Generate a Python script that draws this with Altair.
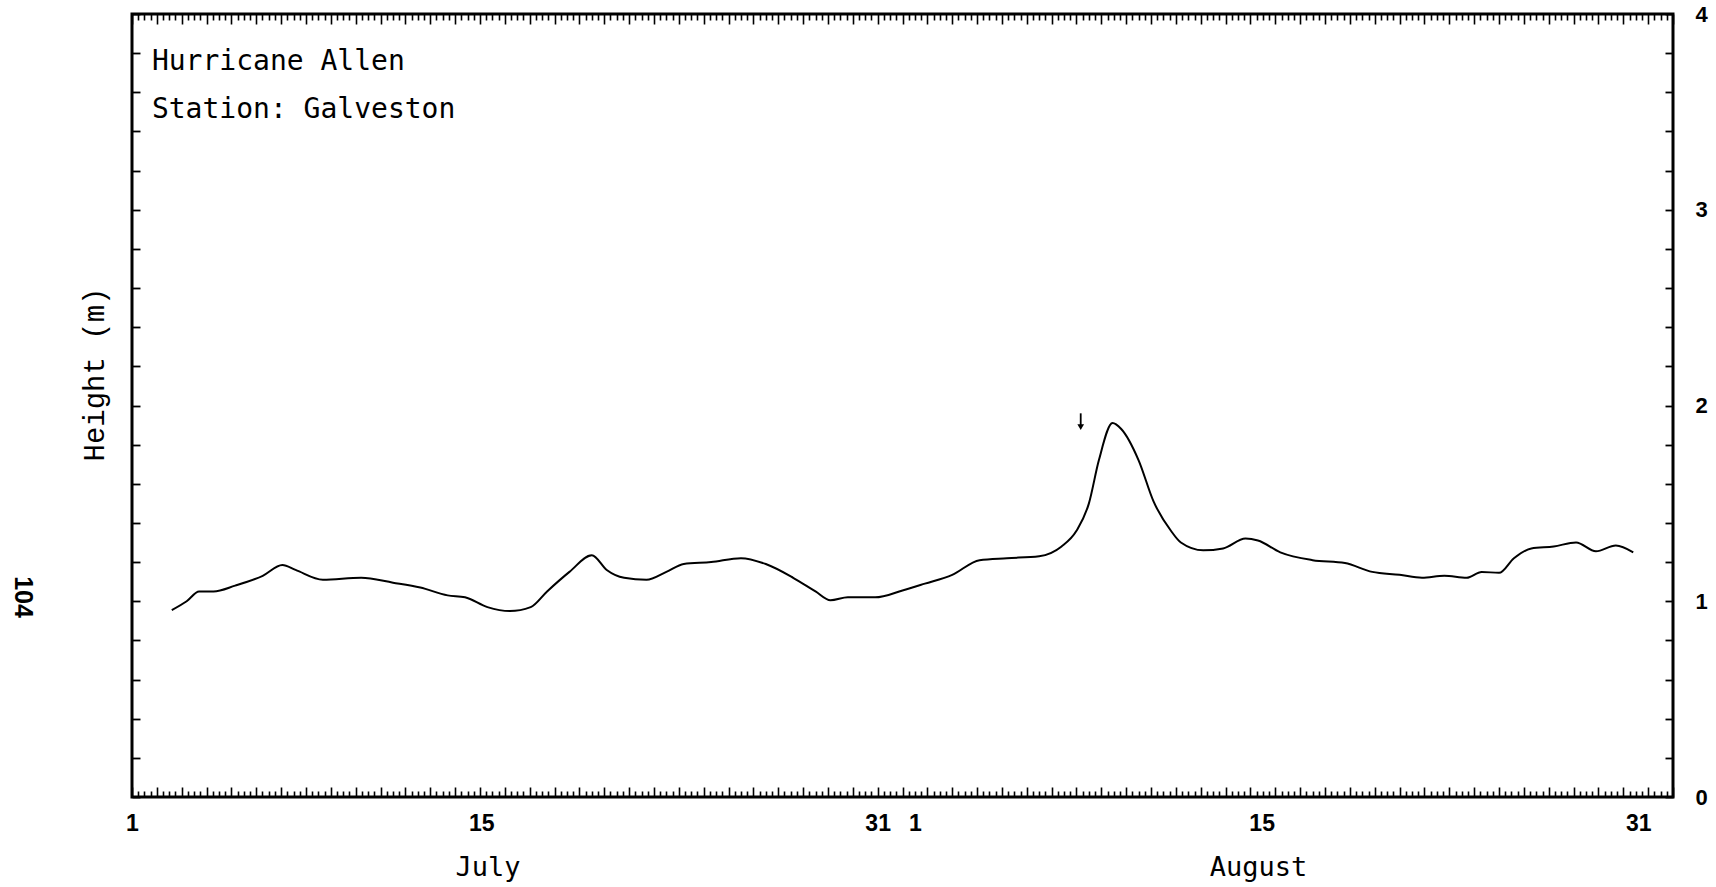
import altair as alt
import pandas as pd

# Water level at Galveston, July-August 1980.
# day = days after 1 July 00:00, height in metres.
day = [1.60, 2.2, 2.7, 3.28, 4.15, 5.26, 6.05, 6.58, 7.68, 9.22,
       10.5, 11.6, 12.7, 13.4, 14.3, 15.2, 16.04, 16.7, 17.6, 18.5,
       19.1, 19.8, 20.7, 21.5, 22.2, 23.3, 24.5, 25.5, 26.6, 27.5,
       28.1, 28.8, 29.9, 31.0, 31.9, 33.0, 34.1, 35.2, 36.5, 37.4,
       38.0, 38.5, 38.9, 39.45, 39.8, 40.5, 41.1, 41.8, 42.2, 43.1,
       43.9, 44.8, 45.3, 46.2, 47.5, 48.8, 49.9, 51.0, 51.9, 52.8,
       53.7, 54.3, 55.0, 55.6, 56.3, 57.2, 58.1, 58.9, 59.7, 60.4]
height = [0.955, 1.0, 1.05, 1.05, 1.08, 1.13, 1.185, 1.16, 1.11, 1.12,
          1.095, 1.07, 1.03, 1.02, 0.97, 0.95, 0.97, 1.05, 1.15, 1.235,
          1.16, 1.12, 1.11, 1.15, 1.19, 1.20, 1.22, 1.19, 1.12, 1.05,
          1.005, 1.02, 1.02, 1.055, 1.09, 1.135, 1.21, 1.22, 1.23, 1.28,
          1.36, 1.50, 1.72, 1.91, 1.88, 1.72, 1.51, 1.36, 1.30, 1.26,
          1.27, 1.32, 1.31, 1.25, 1.21, 1.195, 1.15, 1.135, 1.12, 1.13,
          1.12, 1.15, 1.145, 1.22, 1.27, 1.28, 1.30, 1.255, 1.285, 1.25]

# arrow marking the storm's arrival
storm_day = [38.17]
arrow_top = [1.96]
arrow_tip = [1.89]

# date labels along the time axis
day_label_pos = [0, 14.05, 30.0, 31.5, 45.45, 60.6]
day_label_txt = ["1", "15", "31", "1", "15", "31"]
month_pos = [14.3, 45.3]
month_txt = ["July", "August"]
height_labels = [0, 1, 2, 3, 4]

# annotation block in the upper-left corner
note_day = [0.8, 0.8]
note_height = [3.755, 3.51]
note_txt = ["Hurricane Allen", "Station: Galveston"]

page_number = ["104"]

X_MAX, Y_MAX = 62, 4
W, H = 1541, 783

minor_days = [i / 4 for i in range(0, X_MAX * 4 + 1)]
minor_heights = [round(i * 0.2, 1) for i in range(0, Y_MAX * 5 + 1)]


def lookup_expr(positions, texts):
    expr = "''"
    for p, t in reversed(list(zip(positions, texts))):
        expr = f"abs(datum.value - {p}) < 0.001 ? '{t}' : ({expr})"
    return expr


xs = alt.Scale(domain=[0, X_MAX], nice=False, zero=False)
ys = alt.Scale(domain=[0, Y_MAX], nice=False, zero=False)

day_tick = {"condition": {"test": "datum.value % 1 === 0", "value": 10}, "value": 6}

# inward ticks on the four frame edges
ax_bottom_ticks = alt.Axis(orient="top", offset=-H, values=minor_days, tickSize=day_tick,
                           labels=False, domain=False, tickWidth=1.6, tickColor="black",
                           title=None, grid=False)
ax_top_ticks = alt.Axis(orient="bottom", offset=-H, values=minor_days, tickSize=day_tick,
                        labels=False, domain=False, tickWidth=1.6, tickColor="black",
                        title=None, grid=False)
ax_left_ticks = alt.Axis(orient="right", offset=-W, values=minor_heights, tickSize=8,
                         labels=False, domain=False, tickWidth=1.8, tickColor="black",
                         title=None, grid=False)
ax_right_ticks = alt.Axis(orient="left", offset=-W, values=minor_heights, tickSize=8,
                          labels=False, domain=False, tickWidth=1.8, tickColor="black",
                          title=None, grid=False)

# label-only axes
ax_day_labels = alt.Axis(orient="bottom", values=day_label_pos,
                         labelExpr=lookup_expr(day_label_pos, day_label_txt),
                         ticks=False, tickSize=0, domain=False, labelPadding=15,
                         labelFont="Liberation Sans Narrow, Liberation Sans",
                         labelFontSize=23, labelFontWeight="bold", labelColor="black",
                         labelOverlap=False, labelFlush=False, title=None, grid=False)
ax_months = alt.Axis(orient="bottom", values=month_pos,
                     labelExpr=lookup_expr(month_pos, month_txt),
                     ticks=False, tickSize=0, domain=False, labelPadding=57,
                     labelFont="DejaVu Sans Mono", labelFontSize=27, labelColor="black",
                     labelOverlap=False, labelFlush=False, title=None, grid=False)
ax_height_labels = alt.Axis(orient="right", values=height_labels, format="d",
                            ticks=False, tickSize=0, domain=False, labelPadding=22,
                            labelFont="Liberation Sans", labelFontSize=22,
                            labelFontWeight="bold", labelColor="black",
                            labelOverlap=False, title=None, grid=False)
ax_height_title = alt.Axis(orient="left", values=[], ticks=False, labels=False,
                           domain=False, grid=False, title="Height (m)",
                           titleFont="Liberation Mono", titleFontSize=29,
                           titleFontWeight="normal", titleColor="black",
                           titleAngle=270, titleBaseline="middle", titleAlign="center",
                           titleX=-38, titleY=360)

series = pd.DataFrame({"day": day, "height": height})
arrow = pd.DataFrame({"day": storm_day, "top": arrow_top, "tip": arrow_tip})
notes = pd.DataFrame({"day": note_day, "height": note_height, "txt": note_txt})
page = pd.DataFrame({"txt": page_number})

line = alt.Chart(series).mark_line(color="black", strokeWidth=2, interpolate="monotone").encode(
    x=alt.X("day:Q", scale=xs, axis=ax_bottom_ticks),
    y=alt.Y("height:Q", scale=ys, axis=ax_left_ticks),
)

shaft = alt.Chart(arrow).mark_rule(color="black", strokeWidth=1.8).encode(
    x=alt.X("day:Q", scale=xs, axis=ax_top_ticks),
    y=alt.Y("top:Q", scale=ys, axis=ax_right_ticks),
    y2="tip:Q",
)

head = alt.Chart(arrow).mark_point(shape="triangle-down", filled=True, color="black",
                                   size=45, opacity=1).encode(
    x=alt.X("day:Q", scale=xs, axis=ax_day_labels),
    y=alt.Y("tip:Q", scale=ys, axis=ax_height_labels),
)

note_text = alt.Chart(notes).mark_text(align="left", baseline="middle",
                                        font="DejaVu Sans Mono", fontSize=28,
                                        color="black").encode(
    x=alt.X("day:Q", scale=xs, axis=ax_months),
    y=alt.Y("height:Q", scale=ys, axis=ax_height_title),
    text="txt:N",
)

page_text = alt.Chart(page).mark_text(angle=90, align="center", baseline="middle",
                                      font="Liberation Sans Narrow, Liberation Sans",
                                      fontSize=25, fontWeight="bold", color="black").encode(
    x=alt.value(-109),
    y=alt.value(583),
    text="txt:N",
)

chart = (
    alt.layer(line, shaft, head, note_text, page_text)
    .resolve_axis(x="independent", y="independent")
    .properties(width=W, height=H,
                autosize=alt.AutoSizeParams(type="none"),
                padding={"left": 132, "top": 14, "right": 43, "bottom": 90},
                background="white")
    .configure_view(stroke="black", strokeWidth=3)
    .configure_axis(grid=False)
)

chart.save("out.html", embed_options={"renderer": "svg", "actions": False})
